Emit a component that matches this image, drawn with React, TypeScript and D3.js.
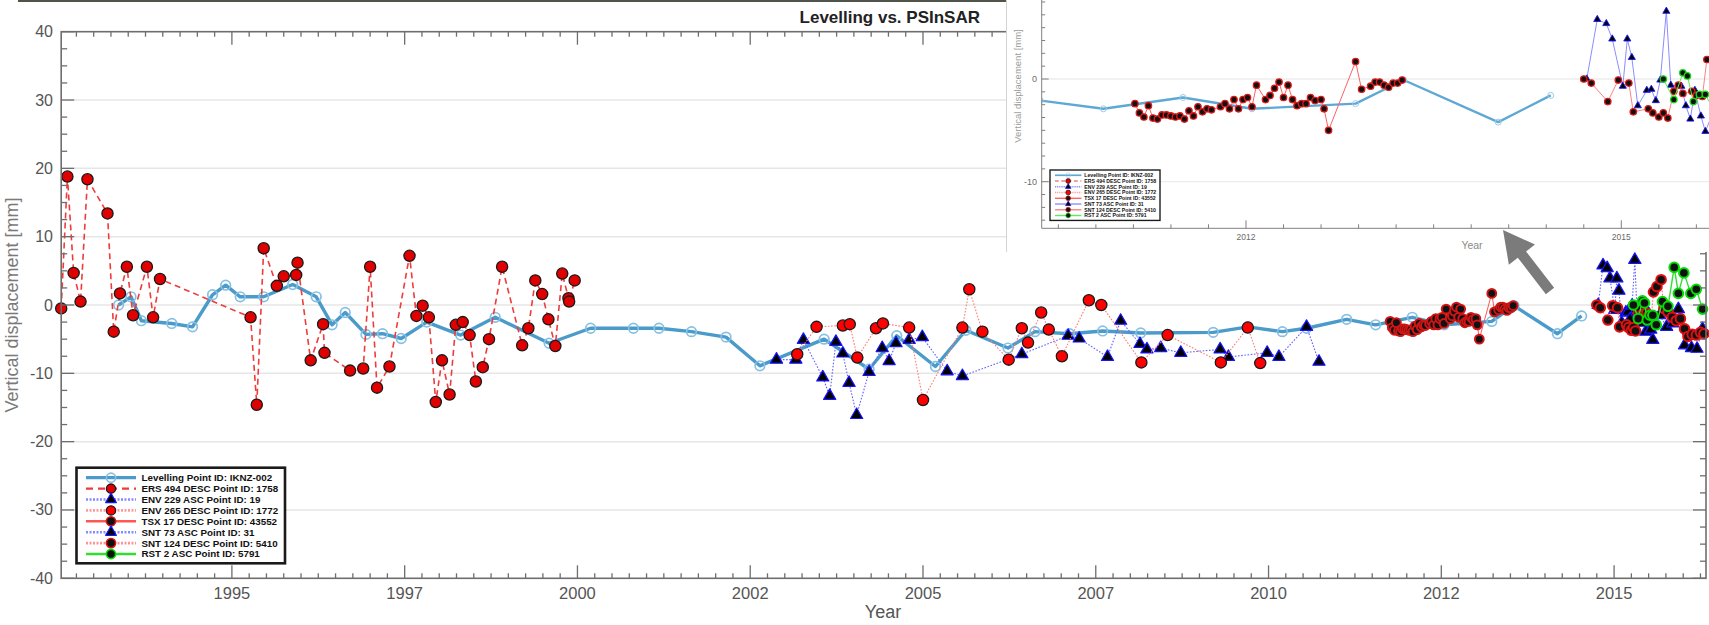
import * as d3 from "d3";

// ---------- data (decimal year, mm) ----------
const levellingYears = [1993.36, 1993.54, 1993.69, 1994.13, 1994.43, 1994.72, 1994.91, 1995.12, 1995.46, 1995.88, 1996.22, 1996.45, 1996.64, 1996.94, 1997.18, 1997.45, 1997.82, 1998.31, 1998.81, 1999.59, 2000.19, 2000.81, 2001.18, 2001.65, 2002.15, 2002.64, 2003.57, 2004.22, 2004.62, 2005.18, 2005.62, 2006.23, 2006.62, 2007.12, 2007.6, 2008.15, 2009.2, 2009.7, 2010.2, 2010.55, 2011.13, 2011.55, 2012.08, 2012.54, 2013.23, 2013.55, 2014.18, 2014.53];
const levellingValues = [0.0, 1.2, -2.3, -2.7, -3.2, 1.5, 2.9, 1.2, 1.2, 3.0, 1.2, -2.9, -1.1, -4.3, -4.2, -4.9, -2.5, -4.4, -1.8, -5.6, -3.4, -3.4, -3.4, -3.9, -4.7, -8.9, -5.0, -9.4, -4.5, -9.0, -3.7, -6.3, -3.9, -4.2, -3.8, -4.1, -4.0, -3.2, -3.9, -3.4, -2.1, -2.9, -1.8, -2.9, -2.4, -0.1, -4.2, -1.6];

const ersYears = [1992.53, 1992.62, 1992.71, 1992.81, 1992.91, 1993.2, 1993.29, 1993.38, 1993.48, 1993.57, 1993.77, 1993.86, 1993.96, 1995.27, 1995.36, 1995.46, 1995.65, 1995.75, 1995.93, 1995.95, 1996.14, 1996.32, 1996.34, 1996.71, 1996.9, 1997.0, 1997.1, 1997.28, 1997.57, 1997.67, 1997.76, 1997.85, 1997.95, 1998.04, 1998.15, 1998.24, 1998.34, 1998.44, 1998.53, 1998.63, 1998.72, 1998.91, 1999.2, 1999.29, 1999.39, 1999.49, 1999.58, 1999.68, 1999.78, 1999.87, 1999.88, 1999.96];
const ersValues = [-0.5, 18.8, 4.7, 0.5, 18.4, 13.4, -3.9, 1.7, 5.6, -1.5, 5.6, -1.8, 3.8, -1.8, -14.6, 8.3, 2.8, 4.2, 4.4, 6.2, -8.1, -2.8, -7.0, -9.6, -9.3, 5.6, -12.1, -9.0, 7.2, -1.6, -0.1, -1.8, -14.2, -8.1, -13.1, -2.9, -2.5, -4.4, -11.2, -9.1, -5.0, 5.6, -5.9, -3.4, 3.6, 1.6, -2.1, -6.0, 4.6, 1.0, 0.5, 3.6];

const env229Years = [2002.88, 2003.16, 2003.27, 2003.55, 2003.65, 2003.74, 2003.84, 2003.93, 2004.04, 2004.22, 2004.41, 2004.51, 2004.61, 2004.8, 2004.99, 2005.35, 2005.57, 2006.43, 2007.1, 2007.26, 2007.67, 2007.86, 2008.14, 2008.24, 2008.44, 2008.73, 2009.3, 2009.42, 2009.98, 2010.15, 2010.55, 2010.73];
const env229Values = [-8.0, -8.0, -5.1, -10.6, -13.3, -5.4, -7.1, -11.4, -16.1, -9.8, -6.3, -8.2, -5.6, -5.1, -4.7, -9.7, -10.4, -7.2, -4.5, -4.9, -7.6, -2.3, -5.7, -6.5, -6.3, -7.0, -6.5, -7.6, -7.0, -7.6, -3.2, -8.3];

const env265Years = [2003.18, 2003.46, 2003.84, 2003.94, 2004.05, 2004.32, 2004.42, 2004.8, 2005.0, 2005.57, 2005.67, 2005.86, 2006.24, 2006.43, 2006.52, 2006.71, 2006.82, 2007.01, 2007.4, 2007.58, 2008.16, 2008.54, 2009.31, 2009.7, 2009.88];
const env265Values = [-7.2, -3.2, -3.0, -2.8, -7.7, -3.4, -2.7, -3.3, -13.9, -3.3, 2.3, -3.9, -8.0, -3.4, -5.5, -1.1, -3.6, -7.5, 0.7, 0.0, -8.4, -4.4, -8.4, -3.3, -8.5];

const tsxYears = [2011.76, 2011.79, 2011.82, 2011.85, 2011.88, 2011.91, 2011.94, 2011.97, 2012.0, 2012.03, 2012.06, 2012.09, 2012.12, 2012.15, 2012.18, 2012.21, 2012.24, 2012.27, 2012.33, 2012.36, 2012.39, 2012.42, 2012.45, 2012.48, 2012.51, 2012.54, 2012.57, 2012.63, 2012.66, 2012.69, 2012.72, 2012.75, 2012.78, 2012.81, 2012.84, 2012.87, 2012.9, 2012.93, 2012.96, 2013.0, 2013.02, 2013.05, 2013.23, 2013.27, 2013.33, 2013.36, 2013.39, 2013.42, 2013.45, 2013.48, 2013.51, 2013.54];
const tsxValues = [-2.4, -3.3, -3.7, -2.6, -3.8, -3.9, -3.5, -3.5, -3.6, -3.7, -3.6, -3.9, -3.1, -3.6, -2.7, -3.2, -2.9, -3.0, -2.7, -2.4, -2.9, -2.0, -2.9, -2.0, -1.8, -2.7, -0.6, -2.0, -1.6, -0.9, -0.3, -1.8, -0.6, -2.0, -2.6, -2.4, -2.4, -1.8, -2.1, -2.0, -2.9, -5.0, 1.7, -1.0, -0.7, -0.3, -0.3, -0.6, -0.8, -0.4, -0.4, -0.1];

const snt73Years = [2014.77, 2014.84, 2014.9, 2014.94, 2015.01, 2015.04, 2015.07, 2015.11, 2015.17, 2015.2, 2015.23, 2015.26, 2015.3, 2015.33, 2015.4, 2015.43, 2015.46, 2015.49, 2015.53, 2015.56, 2015.66, 2015.76, 2015.85, 2015.93, 2016.02, 2016.12, 2016.2, 2016.28];
const snt73Values = [0.0, 5.8, 5.4, 3.9, -0.7, 3.9, 2.1, -2.6, -1.1, -1.0, -2.1, -0.1, 6.6, -0.6, -0.7, -2.6, -3.9, -1.1, -3.6, -5.1, -1.5, -3.2, -2.7, -0.6, -5.9, -6.3, -6.4, -3.5];

const snt124Years = [2014.75, 2014.8, 2014.91, 2014.98, 2015.05, 2015.08, 2015.18, 2015.21, 2015.25, 2015.28, 2015.31, 2015.35, 2015.38, 2015.41, 2015.47, 2015.5, 2015.54, 2015.57, 2015.62, 2015.68, 2015.72, 2015.78, 2015.84, 2015.9, 2015.96, 2016.02, 2016.07, 2016.13, 2016.19, 2016.25, 2016.3];
const snt124Values = [0.0, -0.4, -2.2, -0.1, -0.4, -3.2, -2.9, -3.3, -3.7, -3.3, -3.8, -1.2, -0.6, -1.4, -1.2, -1.6, -1.7, 1.9, 2.7, 3.7, -0.5, -1.0, -1.8, -2.3, -2.0, -3.5, -4.6, -4.3, -4.4, -4.0, -4.2];

const rstYears = [2015.28, 2015.35, 2015.41, 2015.44, 2015.48, 2015.52, 2015.56, 2015.61, 2015.7, 2015.78, 2015.87, 2015.93, 2016.01, 2016.11, 2016.19, 2016.28];
const rstValues = [0.0, -2.0, 0.6, 0.3, -2.2, -1.5, -1.5, -2.9, 0.5, -0.2, 5.5, 1.7, 4.7, 1.7, 2.3, -0.6];

const xTickValues = [1995, 1997.5, 2000, 2002.5, 2005, 2007.5, 2010, 2012.5, 2015];
const xTickLabels = ["1995", "1997", "2000", "2002", "2005", "2007", "2010", "2012", "2015"];
const yTickValues = [-40, -30, -20, -10, 0, 10, 20, 30, 40];
const insetXTickValues = [2012.5, 2015];
const insetXTickLabels = ["2012", "2015"];
const insetYTickValues = [-10, 0];

const legendLabels = [
  "Levelling Point ID: IKNZ-002",
  "ERS 494 DESC Point ID: 1758",
  "ENV 229 ASC Point ID: 19",
  "ENV 265 DESC Point ID: 1772",
  "TSX 17 DESC Point ID: 43552",
  "SNT 73 ASC Point ID: 31",
  "SNT 124 DESC Point ID: 5410",
  "RST 2 ASC Point ID: 5791",
];

// ---------- layout ----------
const FONT = "'Liberation Sans', Arial, Helvetica, sans-serif";
const left = 61.2, right = 1706, top = 31.7, bottom = 578.3;

const x = d3.scaleLinear().domain([1992.53, 2016.33]).range([left, right]);
const y = d3.scaleLinear().domain([-40, 40]).range([bottom, top]);

// inset (zoomed copy of the same figure)
const insetLeft = 1006, insetPlotLeft = 1041.7, insetBottom = 228.3, insetBgBottom = 252;
const xi = d3.scaleLinear().domain([2012.5, 2015]).range([1246, 1621.3]);
const yi = d3.scaleLinear().domain([-10, 0]).range([181.7, 79]);

type Kind = "open" | "circle" | "triangle";
interface Style { line: string; width: number; dash?: string; kind: Kind; fill: string; stroke: string; sw: number; r: number; }

const mainStyles: Style[] = [
  { line: "#4a9bc9", width: 3.4, kind: "open", fill: "none", stroke: "#86c0e4", sw: 1.7, r: 4.8 },
  { line: "#ee3b3b", width: 1.6, dash: "6,4", kind: "circle", fill: "#e00000", stroke: "#1a1a1a", sw: 1.3, r: 5.6 },
  { line: "#6262ff", width: 1.1, dash: "1.6,1.6", kind: "triangle", fill: "#000", stroke: "#1414ff", sw: 1.2, r: 5.5 },
  { line: "#ff7a7a", width: 1.1, dash: "1.6,1.6", kind: "circle", fill: "#ff0000", stroke: "#1a1a1a", sw: 1.3, r: 5.6 },
  { line: "#ff5555", width: 1, kind: "circle", fill: "#111", stroke: "#d01515", sw: 2, r: 4.4 },
  { line: "#6262ff", width: 1.1, dash: "1.6,1.6", kind: "triangle", fill: "#000", stroke: "#1414ff", sw: 1.2, r: 5.5 },
  { line: "#ff7070", width: 1.1, dash: "1.6,1.6", kind: "circle", fill: "#111", stroke: "#e01010", sw: 2, r: 4.8 },
  { line: "#33dd33", width: 1.4, kind: "circle", fill: "#111", stroke: "#00dd00", sw: 2, r: 4.8 },
];

const insetStyles: Style[] = [
  { line: "#5ea8d6", width: 2.4, kind: "open", fill: "none", stroke: "#9ccbe8", sw: 1, r: 3 },
  mainStyles[1],
  mainStyles[2],
  mainStyles[3],
  { line: "#ff6060", width: 1, kind: "circle", fill: "#111", stroke: "#e01818", sw: 1.3, r: 3.2 },
  { line: "#8c8cff", width: 1, kind: "triangle", fill: "#000", stroke: "#1a1aff", sw: 0.9, r: 3.2 },
  { line: "#ff8080", width: 1, kind: "circle", fill: "#111", stroke: "#e01818", sw: 1.3, r: 3.2 },
  { line: "#55ee55", width: 1, kind: "circle", fill: "#111", stroke: "#10dd10", sw: 1.3, r: 3.2 },
];

const seriesData = [
  { years: levellingYears, values: levellingValues },
  { years: ersYears, values: ersValues },
  { years: env229Years, values: env229Values },
  { years: env265Years, values: env265Values },
  { years: tsxYears, values: tsxValues },
  { years: snt73Years, values: snt73Values },
  { years: snt124Years, values: snt124Values },
  { years: rstYears, values: rstValues },
];

const triPath = (size: number) => d3.symbol().type(d3.symbolTriangle).size(size)() as string;

function Marker({ st, cx, cy, triSize }: { st: Style; cx: number; cy: number; triSize: number }) {
  if (st.kind === "triangle") {
    return <path d={triPath(triSize)} transform={`translate(${cx},${cy})`} fill={st.fill} stroke={st.stroke} strokeWidth={st.sw} strokeLinejoin="round" />;
  }
  return <circle cx={cx} cy={cy} r={st.r} fill={st.fill} stroke={st.stroke} strokeWidth={st.sw} />;
}

function Series({ years, values, st, sx, sy, triSize }: { years: number[]; values: number[]; st: Style; sx: d3.ScaleLinear<number, number>; sy: d3.ScaleLinear<number, number>; triSize: number }) {
  const pts = years.map((t, i) => [sx(t), sy(values[i])] as [number, number]);
  const path = d3.line()(pts) ?? "";
  return (
    <g>
      <path d={path} fill="none" stroke={st.line} strokeWidth={st.width} strokeDasharray={st.dash} strokeLinejoin="round" />
      {pts.map(([px, py], i) => <Marker key={i} st={st} cx={px} cy={py} triSize={triSize} />)}
    </g>
  );
}

function Legend({ styles }: { styles: Style[] }) {
  return (
    <g>
      <rect x={0} y={0} width={208.5} height={95.6} fill="white" stroke="#1a1a1a" strokeWidth={2.6} />
      {legendLabels.map((label, i) => {
        const cy = 10 + i * 10.9;
        const st = styles[i];
        const lw = i === 0 ? 3.2 : i === 1 ? 2.2 : 2.6;
        return (
          <g key={i}>
            <line x1={9.5} x2={59.5} y1={cy} y2={cy} stroke={st.line} strokeWidth={lw} strokeDasharray={i === 1 ? "7,5" : st.dash ? "2,1.5" : undefined} opacity={st.dash && i !== 1 ? 0.75 : 1} />
            <Marker st={{ ...st, r: 4.6, sw: Math.min(st.sw, 1.6) }} cx={34.5} cy={cy} triSize={50} />
            <text x={65} y={cy + 3.5} fontSize={9.8} fontWeight="bold" fill="#111" fontFamily={FONT}>{label}</text>
          </g>
        );
      })}
    </g>
  );
}

function MainAxes() {
  const isMajorX = (t: number) => Math.abs((t - 1995) / 2.5 - Math.round((t - 1995) / 2.5)) < 1e-6;
  const minorX = d3.range(1992.75, 2016.3, 0.25).filter((t) => !isMajorX(t));
  const minorY = d3.range(-37.5, 40, 2.5).filter((v) => Math.abs(v % 10) > 1e-6);
  const ax = "#6e6e6e";
  return (
    <g stroke={ax} strokeWidth={1.3} fill="none">
      {minorX.map((t, i) => (
        <g key={`mx${i}`}>
          <line x1={x(t)} x2={x(t)} y1={bottom} y2={bottom - 5} />
          <line x1={x(t)} x2={x(t)} y1={top} y2={top + 5} />
        </g>
      ))}
      {xTickValues.map((t, i) => (
        <g key={`Mx${i}`}>
          <line x1={x(t)} x2={x(t)} y1={bottom} y2={bottom - 13} />
          <line x1={x(t)} x2={x(t)} y1={top} y2={top + 13} />
        </g>
      ))}
      {minorY.map((v, i) => (
        <g key={`my${i}`}>
          <line x1={left} x2={left + 6} y1={y(v)} y2={y(v)} />
          <line x1={right} x2={right - 6} y1={y(v)} y2={y(v)} />
        </g>
      ))}
      {yTickValues.map((v, i) => (
        <g key={`My${i}`}>
          <line x1={left} x2={left + 13} y1={y(v)} y2={y(v)} />
          <line x1={right} x2={right - 13} y1={y(v)} y2={y(v)} />
        </g>
      ))}
      <rect x={left} y={top} width={right - left} height={bottom - top} strokeWidth={1.6} />
    </g>
  );
}

function Inset() {
  const minorX = d3.range(2011.25, 2015.6, 0.25).filter((t) => !insetXTickValues.some((m) => Math.abs(m - t) < 1e-6));
  const minorY = d3.range(-13.75, 7.6, 1.25).filter((v) => Math.abs(v % 10) > 1e-6);
  const ax = "#808080";
  return (
    <g>
      <rect x={insetLeft} y={0} width={1709 - insetLeft} height={insetBgBottom} fill="white" />
      <line x1={insetLeft + 0.5} x2={insetLeft + 0.5} y1={0} y2={insetBgBottom} stroke="#d4d4d4" strokeWidth={1} />
      <defs>
        <clipPath id="insetClip">
          <rect x={insetPlotLeft} y={0} width={1709 - insetPlotLeft} height={insetBottom} />
        </clipPath>
      </defs>
      {insetYTickValues.map((v) => (
        <line key={v} x1={insetPlotLeft} x2={1709} y1={yi(v)} y2={yi(v)} stroke="#ececec" strokeWidth={1.3} />
      ))}
      <g clipPath="url(#insetClip)">
        {seriesData.map((s, i) => (
          <Series key={i} years={s.years} values={s.values} st={insetStyles[i]} sx={xi} sy={yi} triSize={22} />
        ))}
      </g>
      <g stroke={ax} strokeWidth={1} fill="none">
        <line x1={insetPlotLeft} x2={insetPlotLeft} y1={0} y2={insetBottom} />
        <line x1={insetPlotLeft} x2={1709} y1={insetBottom} y2={insetBottom} />
        {minorX.map((t, i) => <line key={`ix${i}`} x1={xi(t)} x2={xi(t)} y1={insetBottom} y2={insetBottom - 4} />)}
        {insetXTickValues.map((t, i) => <line key={`iX${i}`} x1={xi(t)} x2={xi(t)} y1={insetBottom} y2={insetBottom - 8} />)}
        {minorY.map((v, i) => <line key={`iy${i}`} x1={insetPlotLeft} x2={insetPlotLeft + 3.5} y1={yi(v)} y2={yi(v)} />)}
        {insetYTickValues.map((v, i) => <line key={`iY${i}`} x1={insetPlotLeft} x2={insetPlotLeft + 7} y1={yi(v)} y2={yi(v)} />)}
      </g>
      <g fontFamily={FONT} fill="#6a6a6a">
        {insetYTickValues.map((v) => (
          <text key={v} x={1037} y={yi(v) + 3} fontSize={9} textAnchor="end">{v}</text>
        ))}
        {insetXTickValues.map((t, i) => (
          <text key={t} x={xi(t)} y={239.5} fontSize={8.5} textAnchor="middle">{insetXTickLabels[i]}</text>
        ))}
        <text x={1472} y={249} fontSize={10.5} textAnchor="middle" fill="#8a8a8a">Year</text>
        <text transform="translate(1021,86) rotate(-90)" fontSize={9.5} textAnchor="middle" fill="#9a9a9a">Vertical displacement [mm]</text>
      </g>
      <g transform="translate(1050,170) scale(0.5276)">
        <Legend styles={insetStyles} />
      </g>
    </g>
  );
}

function Arrow() {
  const tip: [number, number] = [1503, 230];
  const tail: [number, number] = [1550, 291];
  const dx = tail[0] - tip[0], dy = tail[1] - tip[1];
  const len = Math.hypot(dx, dy);
  const ux = dx / len, uy = dy / len;
  const nx = -uy, ny = ux;
  const headLen = 31, headHalf = 16.5, shaftHalf = 5.2;
  const bx = tip[0] + ux * headLen, by = tip[1] + uy * headLen;
  const pts = [
    tip,
    [bx + nx * headHalf, by + ny * headHalf],
    [bx + nx * shaftHalf, by + ny * shaftHalf],
    [tail[0] + nx * shaftHalf, tail[1] + ny * shaftHalf],
    [tail[0] - nx * shaftHalf, tail[1] - ny * shaftHalf],
    [bx - nx * shaftHalf, by - ny * shaftHalf],
    [bx - nx * headHalf, by - ny * headHalf],
  ];
  return <polygon points={pts.map((p) => p.join(",")).join(" ")} fill="#7b7b7b" />;
}

export default function App() {
  return (
    <svg width={1709} height={625} style={{ position: "absolute", left: 0, top: 0, background: "white" }} fontFamily={FONT}>
      <rect x={0} y={0} width={1709} height={625} fill="white" />
      <rect x={18} y={0} width={988} height={2} fill="#50554c" />

      {/* grid */}
      {yTickValues.filter((v) => Math.abs(v) < 40).map((v) => (
        <line key={v} x1={left} x2={right} y1={y(v)} y2={y(v)} stroke="#e6e6e6" strokeWidth={1.5} />
      ))}

      {/* series */}
      {seriesData.map((s, i) => (
        <Series key={i} years={s.years} values={s.values} st={mainStyles[i]} sx={x} sy={y} triSize={64} />
      ))}

      <MainAxes />

      {/* tick labels */}
      <g fill="#555" fontSize={16}>
        {yTickValues.map((v) => (
          <text key={v} x={53} y={y(v) + 5.5} textAnchor="end">{v}</text>
        ))}
        {xTickValues.map((t, i) => (
          <text key={t} x={x(t)} y={599} fontSize={16.5} textAnchor="middle">{xTickLabels[i]}</text>
        ))}
      </g>
      <text x={883} y={618} fontSize={18} textAnchor="middle" fill="#555">Year</text>
      <text transform={`translate(18,${(top + bottom) / 2}) rotate(-90)`} fontSize={18} textAnchor="middle" fill="#7a7a7a">Vertical displacement [mm]</text>

      <g transform="translate(76.5,467.7)">
        <Legend styles={mainStyles} />
      </g>

      <Inset />
      <Arrow />

      <text x={980} y={23} fontSize={17} fontWeight="bold" textAnchor="end" fill="#222">Levelling vs. PSInSAR</text>
    </svg>
  );
}
